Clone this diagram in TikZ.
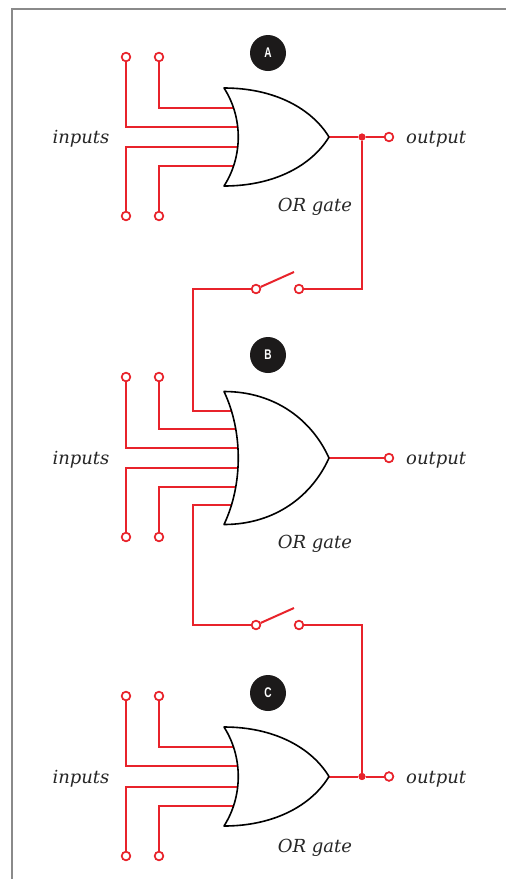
\documentclass[tikz,border=0pt]{standalone}
\usepackage{graphicx}
\usepackage{fontspec}
\setmainfont{DejaVu Serif}
\newfontfamily\badgefont{Liberation Sans}
\definecolor{wirered}{HTML}{E8232B}
\definecolor{badgeblack}{HTML}{1C1A1A}
\definecolor{framegray}{HTML}{8A8A8A}
\newcommand{\badgetext}[1]{\scalebox{0.72}[1]{#1}}
\begin{document}
\begin{tikzpicture}[x=1pt,y=-1pt,
  wire/.style={draw=wirered, line width=2pt},
  term/.style={circle, draw=wirered, fill=white, line width=1.6pt, inner sep=0pt, minimum size=8.5pt},
  junc/.style={circle, fill=wirered, inner sep=0pt, minimum size=7pt},
  gate/.style={draw=black, fill=white, line width=1.6pt, line join=round},
  lbl/.style={font=\fontsize{18}{18}\selectfont\itshape, text=black!85, inner sep=0pt},
  badge/.style={circle, fill=badgeblack, text=white, minimum size=36pt, inner sep=0pt, font=\badgefont\bfseries\fontsize{14}{14}\selectfont},
  frameline/.style={draw=framegray, line width=1.8pt}]
\useasboundingbox (0,0) rectangle (506,879);

% frame
\coordinate (fr1) at (12,879);
\coordinate (fr2) at (12,9);
\coordinate (fr3) at (506,9);
\draw[frameline] (fr1) -- (fr2) -- (fr3);

% ---------- terminals ----------
% gate A
\node[term] (a1t) at (126,57) {};
\node[term] (a2t) at (159,57) {};
\node[term] (a1b) at (126,216) {};
\node[term] (a2b) at (159,216) {};
% gate B
\node[term] (b1t) at (126,377) {};
\node[term] (b2t) at (159,377) {};
\node[term] (b1b) at (126,537) {};
\node[term] (b2b) at (159,537) {};
% gate C
\node[term] (c1t) at (126,696) {};
\node[term] (c2t) at (159,696) {};
\node[term] (c1b) at (126,856) {};
\node[term] (c2b) at (159,856) {};
% outputs
\node[term] (aout) at (389,137) {};
\node[term] (bout) at (389,458) {};
\node[term] (cout) at (389,776.5) {};
% switches
\node[term] (sw1l) at (256,289) {};
\node[term] (sw1r) at (299,289) {};
\node[term] (sw2l) at (256,625) {};
\node[term] (sw2r) at (299,625) {};
\coordinate (sw1e) at (294,272);
\coordinate (sw2e) at (294,608);
% junctions
\node[junc] (ajn) at (362,137) {};
\node[junc] (cjn) at (362,776.5) {};

% gate input points
\coordinate (ain1) at (238,108);
\coordinate (ain2) at (238,127);
\coordinate (ain3) at (238,147);
\coordinate (ain4) at (238,166);
\coordinate (bin1) at (238,411);
\coordinate (bin2) at (238,429);
\coordinate (bin3) at (238,448);
\coordinate (bin4) at (238,468);
\coordinate (bin5) at (238,487);
\coordinate (bin6) at (238,505);
\coordinate (cin1) at (238,747);
\coordinate (cin2) at (238,766);
\coordinate (cin3) at (238,787);
\coordinate (cin4) at (238,806);
\coordinate (bc1) at (193,411);
\coordinate (bc6) at (193,505);
% gate tips
\coordinate (atip) at (329,137);
\coordinate (btip) at (329,458);
\coordinate (ctip) at (329,776.5);

% ---------- wires ----------
\draw[wire] (a2t) |- (ain1);
\draw[wire] (a1t) |- (ain2);
\draw[wire] (a1b) |- (ain3);
\draw[wire] (a2b) |- (ain4);

\draw[wire] (sw1l) -| (bc1) -- (bin1);
\draw[wire] (b2t) |- (bin2);
\draw[wire] (b1t) |- (bin3);
\draw[wire] (b1b) |- (bin4);
\draw[wire] (b2b) |- (bin5);
\draw[wire] (bin6) -- (bc6) |- (sw2l);

\draw[wire] (c2t) |- (cin1);
\draw[wire] (c1t) |- (cin2);
\draw[wire] (c1b) |- (cin3);
\draw[wire] (c2b) |- (cin4);

\draw[wire] (atip) -- (ajn) -- (aout);
\draw[wire] (ajn) |- (sw1r);
\draw[wire] (sw1l) -- (sw1e);
\draw[wire] (btip) -- (bout);
\draw[wire] (sw2r) -| (cjn);
\draw[wire] (sw2l) -- (sw2e);
\draw[wire] (ctip) -- (cjn) -- (cout);

% redraw terminals on top of wires
\foreach \n in {a1t,a2t,a1b,a2b,b1t,b2t,b1b,b2b,c1t,c2t,c1b,c2b,aout,bout,cout,sw1l,sw1r,sw2l,sw2r}
  \node[term] at (\n) {};
\node[junc] at (ajn) {};
\node[junc] at (cjn) {};

% ---------- gates ----------
\draw[gate] (224,88) .. controls (275,88) and (312,109) .. (atip)
  .. controls (312,165) and (275,186) .. (224,186)
  .. controls (243,156.6) and (243,117.4) .. cycle;
\draw[gate] (224,391.5) .. controls (275,391.5) and (312,420.1) .. (btip)
  .. controls (312,495.9) and (275,524.5) .. (224,524.5)
  .. controls (243,484.6) and (243,431.4) .. cycle;
\draw[gate] (224,727) .. controls (275,727) and (312,748.3) .. (ctip)
  .. controls (312,804.7) and (275,826) .. (224,826)
  .. controls (243,796.3) and (243,756.7) .. cycle;

% ---------- badges ----------
\node[badge] (bA) at (268,53) {\badgetext{A}};
\node[badge] (bB) at (268,355) {\badgetext{B}};
\node[badge] (bC) at (268,693) {\badgetext{C}};

% ---------- labels ----------
\node[lbl, anchor=base] (inA) at (81,143) {inputs};
\node[lbl, anchor=base] (inB) at (81,464) {inputs};
\node[lbl, anchor=base] (inC) at (81,783) {inputs};
\node[lbl, anchor=base west] (outA) at (406,143) {output};
\node[lbl, anchor=base west] (outB) at (406,464) {output};
\node[lbl, anchor=base west] (outC) at (406,783) {output};
\node[lbl, anchor=base] (gA) at (315,211) {OR gate};
\node[lbl, anchor=base] (gB) at (315,548) {OR gate};
\node[lbl, anchor=base] (gC) at (315,852) {OR gate};
\end{tikzpicture}
\end{document}
